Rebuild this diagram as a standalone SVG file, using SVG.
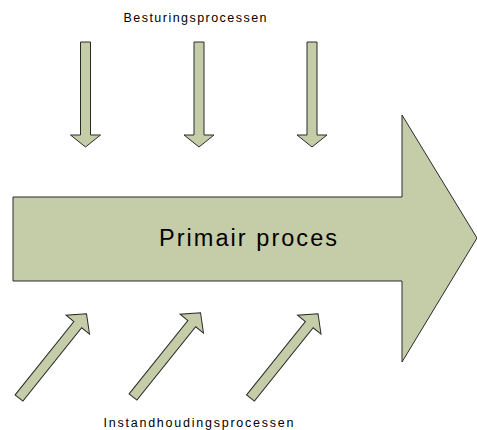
<svg xmlns="http://www.w3.org/2000/svg" width="477" height="430" viewBox="0 0 477 430">
<defs>
<style>
.ar{fill:#c5cca8;stroke:#2a2a2a;stroke-width:1;stroke-linejoin:miter}
.t{font-family:"Liberation Sans",Arial,sans-serif;fill:#000}
</style>
<path id="down" d="M-5,0 L5,0 L5,93 L15,93 L0,105 L-15,93 L-5,93 Z"/>
<path id="diag" d="M0,-5 L94,-5 L94,-15 L108,0 L94,15 L94,5 L0,5 Z"/>
</defs>
<rect width="477" height="430" fill="#ffffff"/>
<g id="primair">
<path class="ar" d="M13,197 L402,197 L402,115 L477,238 L402,362 L402,281 L13,281 Z"/>
<text class="t" x="159" y="246" font-size="23.5" textLength="178" lengthAdjust="spacing">Primair proces</text>
</g>
<g id="besturing">
<text class="t" x="123.5" y="22.3" font-size="12.5" textLength="143" lengthAdjust="spacing">Besturingsprocessen</text>
</g>
<g id="connectors">
<use href="#down" class="ar" x="85.5" y="42"/>
<use href="#down" class="ar" x="199" y="42"/>
<use href="#down" class="ar" x="312" y="42"/>
<use href="#diag" class="ar" transform="translate(19,398) rotate(-51.3)"/>
<use href="#diag" class="ar" transform="translate(133,397) rotate(-51.3)"/>
<use href="#diag" class="ar" transform="translate(250.5,398) rotate(-51.3)"/>
</g>
<g id="instandhouding">
<text class="t" x="103.5" y="426.5" font-size="12.5" textLength="190" lengthAdjust="spacing">Instandhoudingsprocessen</text>
</g>
</svg>
